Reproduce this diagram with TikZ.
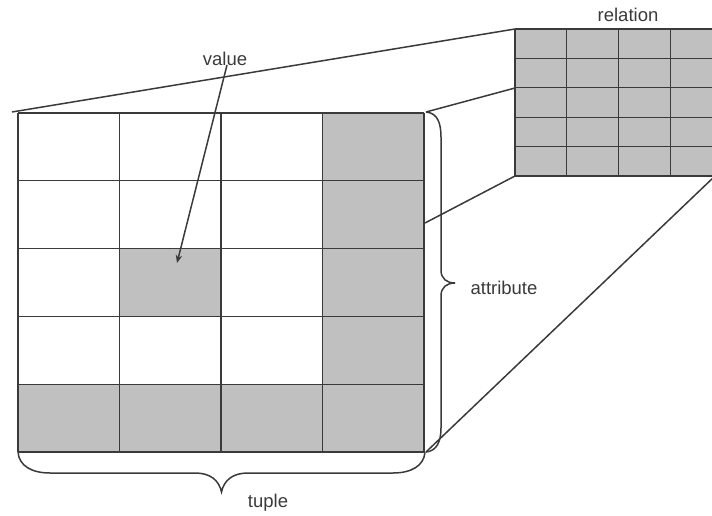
\documentclass[tikz,border=0pt]{standalone}
\usepackage{fontspec}
\setmainfont{Liberation Sans}
\usetikzlibrary{arrows.meta}
\definecolor{cellgray}{HTML}{C0C0C0}
\definecolor{linegray}{HTML}{3A3A3A}
\tikzset{
  gridline/.style={draw=linegray, line width=1.1pt},
  projline/.style={draw=linegray, line width=1.5pt},
  bracestyle/.style={draw=linegray, line width=1.5pt},
  labeltext/.style={font=\fontsize{18.5}{20}\selectfont, text=linegray, inner sep=0pt},
  shade/.style={fill=cellgray},
}
\begin{document}
\begin{tikzpicture}[x=1pt,y=-1pt]
\useasboundingbox (0,0) rectangle (712,516);
\clip (0,0) rectangle (712,516);
\pgfmathsetmacro{\bw}{101.5}
\pgfmathsetmacro{\bh}{67.8}
\pgfmathsetmacro{\sw}{51.7}
\pgfmathsetmacro{\sh}{29.4}
% big grid corners
\coordinate (BTL) at (18,113);
\coordinate (BTR) at (424,113);
\coordinate (BBL) at (18,452);
\coordinate (BBR) at (424,452);
% small grid corners
\coordinate (STL) at (515,29);
\coordinate (SBL) at (515,176);
\coordinate (SBR) at (721.8,176);
% shaded cells of big grid
\foreach \j in {0,...,4} {\fill[shade] (18+3*\bw,113+\j*\bh) rectangle ++(\bw,\bh);}
\foreach \i in {0,...,2} {\fill[shade] (18+\i*\bw,113+4*\bh) rectangle ++(\bw,\bh);}
\fill[shade] (18+\bw,113+2*\bh) rectangle ++(\bw,\bh);
% big grid lines
\foreach \i in {0,...,4} {\draw[gridline] (18+\i*\bw,113) -- (18+\i*\bw,452);}
\foreach \j in {0,...,5} {\draw[gridline] (18,113+\j*\bh) -- (424,113+\j*\bh);}
% small grid
\fill[shade] (STL) rectangle (SBR);
\foreach \i in {0,...,4} {\draw[gridline] (515+\i*\sw,29) -- (515+\i*\sw,176);}
\foreach \j in {0,...,5} {\draw[gridline] (515,29+\j*\sh) -- (721.8,29+\j*\sh);}
% projection lines
\coordinate (P1) at (12,112);
\coordinate (P2) at (426,112);
\coordinate (S2) at (515,88);
\coordinate (P3) at (425,223);
\coordinate (P4) at (426,452);
\coordinate (S4) at (715,176);
\draw[projline] (P1) -- (STL);
\draw[projline] (P2) -- (S2);
\draw[projline] (P3) -- (SBL);
\draw[projline] (P4) -- (S4);
% attribute brace
\draw[bracestyle] (426,112) .. controls (438,113) and (441,124) .. (441,137)
  -- (441,270) .. controls (441,279) and (447,283) .. (455,283)
  .. controls (447,283) and (441,287) .. (441,296)
  -- (441,428) .. controls (441,441) and (437,451) .. (426,452);
% tuple brace
\draw[bracestyle] (18,452) .. controls (19,466) and (32,473) .. (50,473)
  -- (195,473) .. controls (210,473) and (219,480) .. (221.5,492)
  .. controls (224,480) and (233,473) .. (248,473)
  -- (393,473) .. controls (411,473) and (424,466) .. (425,452);
% labels
\node[labeltext] (value) at (225,59) {value};
\node[labeltext] (relation) at (628,15) {relation};
\node[labeltext] (attribute) at (504,288) {attribute};
\node[labeltext] (tuple) at (268,503) {tuple};
\coordinate (cell) at (177,263);
\draw[projline,-{Stealth[length=8pt,width=6.5pt]}] ([xshift=2pt,yshift=1pt]value.south) -- (cell);
\end{tikzpicture}
\end{document}
